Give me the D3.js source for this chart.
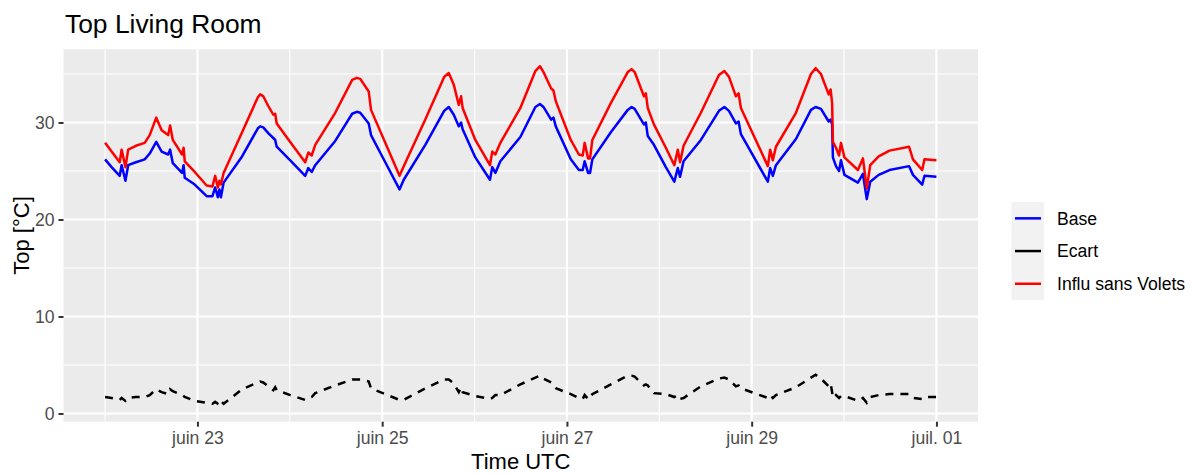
<!DOCTYPE html>
<html><head><meta charset="utf-8">
<script src="https://cdn.jsdelivr.net/npm/d3@7"></script>
<style>
body{margin:0;background:#fff;}
text{font-family:"Liberation Sans",Arial,Helvetica,sans-serif;}
</style>
</head><body>
<svg id="chart" width="1197" height="474"></svg>
<script>
// ---- data (hours since 22 June 00:00 UTC) ----
const hours = [0,1.7,3.8,4.3,5.3,6.0,8.0,10.3,11.6,13.3,
14.7,16.4,16.9,17.6,20.0,20.4,20.7,23.3,26.4,27.9,
28.6,29.3,29.7,30.1,30.8,35.6,39.7,40.3,41.1,42.4,
43.7,44.2,44.6,48.1,52.0,52.8,53.7,54.6,59.8,64.2,
65.4,66.3,68.5,69.1,72.8,76.5,77.6,83.2,88.1,89.3,
90.6,91.9,92.5,92.9,96.2,100.0,100.6,101.4,102.7,107.9,
111.8,113.0,113.9,115.9,116.5,117.1,121.0,123.1,124.1,124.6,
125.5,126.0,126.6,131.4,135.8,136.8,137.6,140.0,140.5,141.0,
142.6,145.7,147.9,148.8,149.4,150.3,154.8,159.5,160.9,162.1,
163.9,164.6,165.2,172.2,172.8,173.5,174.3,179.5,183.4,184.6,
186.0,188.0,188.5,188.9,189.1,189.9,190.7,191.2,192.1,195.6,
196.9,197.9,198.8,201.0,203.8,208.9,209.9,212.3,212.9,216.0];

const influ = [27.9,27.0,25.9,27.2,25.4,27.2,27.6,27.9,28.7,30.5,
29.2,28.7,29.7,28.2,26.7,27.4,26.0,24.9,23.5,23.4,
24.5,23.3,24.0,23.6,24.8,29.0,32.6,32.9,32.7,31.7,
30.8,30.9,29.9,28.0,25.9,26.9,26.6,27.7,31.0,34.4,
34.6,34.5,33.2,31.3,27.9,24.5,25.5,30.3,34.7,35.1,
33.9,31.8,32.7,31.5,28.2,25.6,27.0,26.7,27.9,31.5,
35.3,35.8,35.2,33.5,33.3,32.2,28.2,26.7,26.6,27.9,
26.3,26.3,28.2,32.0,35.2,35.5,35.2,32.7,33.0,31.5,
29.8,27.4,25.6,27.2,25.9,27.6,31.0,34.9,35.3,34.7,
32.7,33.0,31.5,25.5,27.2,26.1,27.5,31.0,35.0,35.6,
35.0,32.9,33.4,32.0,28.0,27.4,26.6,27.9,26.4,25.1,
26.3,23.2,25.6,26.5,27.1,27.5,26.2,25.1,26.2,26.1];

const base = [26.2,25.4,24.5,25.6,24.0,25.6,25.9,26.2,26.8,28.0,
27.0,26.7,27.2,25.8,24.8,25.6,24.3,23.6,22.4,22.4,
23.3,22.3,23.1,22.3,23.8,26.5,29.4,29.6,29.5,28.9,
28.4,28.2,27.5,26.1,24.5,25.3,24.9,25.6,28.1,30.9,
31.1,31.0,29.9,28.7,25.9,23.1,24.1,27.7,31.2,31.6,
30.8,29.6,30.0,29.3,26.4,24.1,25.4,24.8,26.0,28.5,
31.6,31.9,31.6,30.3,30.5,29.6,26.2,25.1,25.1,26.0,
24.8,24.8,26.2,29.0,31.3,31.6,31.4,29.8,30.0,28.6,
27.7,25.4,23.9,25.3,24.4,26.0,28.2,31.2,31.6,31.2,
29.9,30.1,28.8,23.9,25.3,24.5,25.6,28.3,31.3,31.6,
31.4,30.1,30.3,29.8,26.4,25.5,25.0,26.1,24.6,23.8,
24.7,22.1,23.9,24.6,25.1,25.5,24.6,23.6,24.5,24.4];

const ecart = [1.7,1.6,1.4,1.6,1.3,1.6,1.7,1.7,1.9,2.5,
2.2,2.0,2.5,2.3,1.9,1.8,1.7,1.3,1.1,1.0,
1.2,1.0,0.9,1.3,1.0,2.5,3.2,3.3,3.2,2.8,
2.4,2.7,2.4,1.9,1.4,1.6,1.7,2.1,2.9,3.5,
3.5,3.5,3.3,2.6,2.0,1.4,1.4,2.6,3.5,3.5,
3.1,2.2,2.7,2.2,1.8,1.5,1.6,1.9,1.9,3.0,
3.7,3.9,3.6,3.2,2.8,2.6,2.0,1.6,1.5,1.9,
1.5,1.5,2.0,3.0,3.9,3.9,3.8,2.9,3.0,2.9,
2.1,2.0,1.7,1.9,1.5,1.6,2.8,3.6,3.7,3.5,
2.8,2.9,2.6,1.6,1.9,1.6,1.9,2.7,3.7,4.0,
3.6,2.8,3.1,2.2,1.6,1.9,1.6,1.8,1.8,1.3,
1.6,1.1,1.7,1.9,2.0,2.0,1.6,1.5,1.7,1.7];

const seriesNames = ["Base", "Ecart", "Influ sans Volets"];
const seriesColors = ["#0000FF", "#000000", "#FF0000"];
const xTickDates = ["2021-06-23", "2021-06-25", "2021-06-27", "2021-06-29", "2021-07-01"];
const xTickLabels = ["juin 23", "juin 25", "juin 27", "juin 29", "juil. 01"];
const xMinorDates = ["2021-06-22", "2021-06-24", "2021-06-26", "2021-06-28", "2021-06-30"];
const yTicks = [0, 10, 20, 30];
const yMinor = [5, 15, 25, 35];
const titleText = "Top Living Room";
const xTitle = "Time UTC";
const yTitle = "Top [°C]";

// ---- layout ----
const start = Date.UTC(2021, 5, 22);
const HOUR = 3600e3;
const panel = {left: 63.5, right: 978, top: 49.3, bottom: 421.7};
const svg = d3.select("#chart");

const hExt = d3.extent(hours);
const hPad = (hExt[1] - hExt[0]) * 0.05;
const x = d3.scaleUtc()
  .domain([new Date(start + (hExt[0] - hPad) * HOUR), new Date(start + (hExt[1] + hPad) * HOUR)])
  .range([panel.left, panel.right]);
const allVals = influ.concat(base, ecart);
const vExt = d3.extent(allVals);
const vPad = (vExt[1] - vExt[0]) * 0.05;
const y = d3.scaleLinear().domain([vExt[0] - vPad, vExt[1] + vPad]).range([panel.bottom, panel.top]);

const parse = d3.utcParse("%Y-%m-%d");

// panel background
svg.append("rect").attr("x", panel.left).attr("y", panel.top)
  .attr("width", panel.right - panel.left).attr("height", panel.bottom - panel.top)
  .attr("fill", "#EBEBEB");

const grid = svg.append("g");
// minor grid
yMinor.forEach(v => grid.append("line").attr("x1", panel.left).attr("x2", panel.right)
  .attr("y1", y(v)).attr("y2", y(v)).attr("stroke", "#fff").attr("stroke-width", 1.1));
xMinorDates.forEach(d => grid.append("line").attr("y1", panel.top).attr("y2", panel.bottom)
  .attr("x1", x(parse(d))).attr("x2", x(parse(d))).attr("stroke", "#fff").attr("stroke-width", 1.1));
// major grid
yTicks.forEach(v => grid.append("line").attr("x1", panel.left).attr("x2", panel.right)
  .attr("y1", y(v)).attr("y2", y(v)).attr("stroke", "#fff").attr("stroke-width", 2.2));
xTickDates.forEach(d => grid.append("line").attr("y1", panel.top).attr("y2", panel.bottom)
  .attr("x1", x(parse(d))).attr("x2", x(parse(d))).attr("stroke", "#fff").attr("stroke-width", 2.2));

// axes
const xAxis = d3.axisBottom(x).tickValues(xTickDates.map(parse))
  .tickFormat((d, i) => xTickLabels[i]).tickSize(5).tickPadding(4);
const gx = svg.append("g").attr("transform", `translate(0,${panel.bottom})`).call(xAxis);
gx.select(".domain").remove();
gx.selectAll(".tick line").attr("stroke", "#333").attr("stroke-width", 2);
gx.selectAll(".tick text").attr("fill", "#4D4D4D").attr("font-size", 17.6)
  .attr("font-family", "'Liberation Sans', Arial, sans-serif").attr("dy", "0.75em");

const yAxis = d3.axisLeft(y).tickValues(yTicks).tickSize(5).tickPadding(4);
const gy = svg.append("g").attr("transform", `translate(${panel.left},0)`).call(yAxis);
gy.select(".domain").remove();
gy.selectAll(".tick line").attr("stroke", "#333").attr("stroke-width", 2);
gy.selectAll(".tick text").attr("fill", "#4D4D4D").attr("font-size", 17.6)
  .attr("font-family", "'Liberation Sans', Arial, sans-serif");

// lines
const pts = arr => hours.map((h, i) => [new Date(start + h * HOUR), arr[i]]);
const line = d3.line().x(d => x(d[0])).y(d => y(d[1]));
const plot = svg.append("g");
plot.append("path").datum(pts(base)).attr("d", line).attr("fill", "none")
  .attr("stroke", seriesColors[0]).attr("stroke-width", 2.5).attr("stroke-linejoin", "round");
plot.append("path").datum(pts(influ)).attr("d", line).attr("fill", "none")
  .attr("stroke", seriesColors[2]).attr("stroke-width", 2.5).attr("stroke-linejoin", "round");
plot.append("path").datum(pts(ecart)).attr("d", line).attr("fill", "none")
  .attr("stroke", seriesColors[1]).attr("stroke-width", 2.5).attr("stroke-dasharray", "8,7");

// titles
svg.append("text").attr("x", 65).attr("y", 33).attr("font-size", 26.4).attr("fill", "#000").text(titleText);
svg.append("text").attr("x", (panel.left + panel.right) / 2).attr("y", 469).attr("text-anchor", "middle")
  .attr("font-size", 22).attr("fill", "#000").text(xTitle);
svg.append("text").attr("transform", `translate(29,${(panel.top + panel.bottom) / 2}) rotate(-90)`)
  .attr("text-anchor", "middle").attr("font-size", 22).attr("fill", "#000").text(yTitle);

// legend
const leg = svg.append("g").attr("transform", "translate(1011.5,202)");
const keyH = 32.7;
leg.append("rect").attr("x", 0).attr("y", 0).attr("width", 32.5).attr("height", keyH * 3).attr("fill", "#F2F2F2");
seriesNames.forEach((n, i) => {
  const cy = keyH * i + keyH / 2;
  leg.append("line").attr("x1", 3.5).attr("x2", 29.5).attr("y1", cy).attr("y2", cy)
    .attr("stroke", seriesColors[i]).attr("stroke-width", 2.5);
  leg.append("text").attr("x", 45.5).attr("y", cy).attr("dy", "0.35em")
    .attr("font-size", 17.6).attr("fill", "#000").text(n);
});
</script>
</body></html>
